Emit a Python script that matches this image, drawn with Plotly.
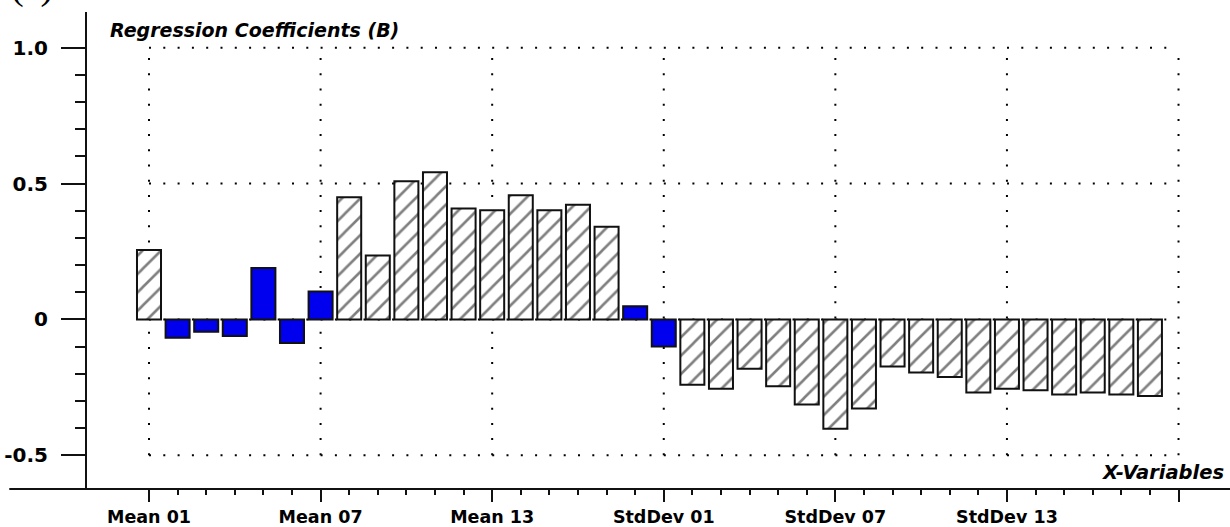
import plotly.graph_objects as go

# ---------------- data ----------------
categories = [
    "Mean 01", "Mean 02", "Mean 03", "Mean 04", "Mean 05", "Mean 06",
    "Mean 07", "Mean 08", "Mean 09", "Mean 10", "Mean 11", "Mean 12",
    "Mean 13", "Mean 14", "Mean 15", "Mean 16", "Mean 17", "Mean 18",
    "StdDev 01", "StdDev 02", "StdDev 03", "StdDev 04", "StdDev 05", "StdDev 06",
    "StdDev 07", "StdDev 08", "StdDev 09", "StdDev 10", "StdDev 11", "StdDev 12",
    "StdDev 13", "StdDev 14", "StdDev 15", "StdDev 16", "StdDev 17", "StdDev 18",
]
coefficients = [
    0.256, -0.067, -0.045, -0.061, 0.189, -0.087, 0.103, 0.450, 0.235,
    0.509, 0.542, 0.408, 0.402, 0.457, 0.402, 0.422, 0.341, 0.049,
    -0.100, -0.240, -0.255, -0.181, -0.246, -0.313, -0.402, -0.328, -0.173,
    -0.195, -0.212, -0.269, -0.255, -0.261, -0.276, -0.269, -0.276, -0.282,
]
highlighted = [
    False, True, True, True, True, True, True, False, False,
    False, False, False, False, False, False, False, False, True,
    True, False, False, False, False, False, False, False, False,
    False, False, False, False, False, False, False, False, False,
]
y_tick_values = [-0.5, 0.0, 0.5, 1.0]
y_tick_labels = ["-0.5", "0", "0.5", "1.0"]
y_minor_values = [-0.4, -0.3, -0.2, -0.1, 0.1, 0.2, 0.3, 0.4, 0.6, 0.7, 0.8, 0.9]
label_every = 6

# ---------------- derived ----------------
n = len(categories)
xpos = list(range(n))
x_major = list(range(0, n + 1, label_every))
x_major_text = [categories[i] if i < n else "" for i in x_major]
x_minor = [i for i in range(1, n) if i % label_every != 0]

hx = [x for x, h in zip(xpos, highlighted) if not h]
hy = [v for v, h in zip(coefficients, highlighted) if not h]
bx = [x for x, h in zip(xpos, highlighted) if h]
by = [v for v, h in zip(coefficients, highlighted) if h]

INK = "#111111"
FONT = "DejaVu Sans"

fig = go.Figure()
fig.add_trace(go.Bar(
    x=hx, y=hy, width=0.84,
    marker=dict(color="white",
                line=dict(color=INK, width=2),
                pattern=dict(shape="/", fgcolor="black", bgcolor="white",
                             size=13, solidity=0.2)),
    showlegend=False, hoverinfo="x+y",
))
fig.add_trace(go.Bar(
    x=bx, y=by, width=0.84,
    marker=dict(color="#0000EE", line=dict(color=INK, width=2)),
    showlegend=False, hoverinfo="x+y",
))

shapes = []
# dotted grid box
for yv in y_tick_values:
    shapes.append(dict(type="line", xref="x", yref="y",
                       x0=x_major[0], x1=x_major[-1], y0=yv, y1=yv,
                       line=dict(color="black", width=2, dash="2px,12.3px"),
                       layer="below"))
for xv in x_major:
    shapes.append(dict(type="line", xref="x", yref="y",
                       x0=xv, x1=xv, y0=min(y_tick_values), y1=max(y_tick_values),
                       line=dict(color="black", width=2, dash="2px,13.2px"),
                       layer="below"))
# horizontal axis line extending left past the y axis
shapes.append(dict(type="line", xref="paper", yref="paper",
                   x0=-0.068, x1=1, y0=0, y1=0,
                   line=dict(color=INK, width=2), layer="above"))

annotations = [
    dict(text="Regression Coefficients (B)", xref="paper", yref="paper",
         x=0.018, y=0.962, xanchor="left", yanchor="middle", showarrow=False,
         font=dict(family=FONT, size=19, color="black", weight="bold", style="italic")),
    dict(text="X-Variables", xref="paper", yref="paper",
         x=0.9965, y=0.034, xanchor="right", yanchor="middle", showarrow=False,
         font=dict(family=FONT, size=19.5, color="black", weight="bold", style="italic")),
    dict(text="(a)", xref="paper", yref="paper",
         x=-0.068, y=1.004, xanchor="left", yanchor="bottom", showarrow=False,
         font=dict(family="Liberation Serif", size=38, color="black")),
]

fig.update_layout(
    width=1230, height=527,
    margin=dict(l=87, r=0, t=12, b=34, pad=0),
    paper_bgcolor="white", plot_bgcolor="white",
    bargap=0.16,
    shapes=shapes, annotations=annotations,
    xaxis=dict(
        range=[-2.168, 37.8], showgrid=False, zeroline=False, showline=False,
        tickmode="array", tickvals=x_major, ticktext=x_major_text,
        ticks="outside", ticklen=12, tickwidth=2, tickcolor=INK,
        tickfont=dict(family=FONT, size=17.5, color="black", weight="bold"),
        minor=dict(tickmode="array", tickvals=x_minor, ticks="outside",
                   ticklen=5, tickwidth=2, tickcolor=INK, showgrid=False),
    ),
    yaxis=dict(
        range=[-0.624, 1.1315], showgrid=False, zeroline=False,
        showline=True, linecolor=INK, linewidth=2,
        tickmode="array", tickvals=y_tick_values, ticktext=y_tick_labels,
        ticks="outside", ticklen=24, tickwidth=2, tickcolor=INK,
        ticklabelstandoff=9,
        tickfont=dict(family=FONT, size=20, color="black", weight="bold"),
        minor=dict(tickmode="array", tickvals=y_minor_values, ticks="outside",
                   ticklen=10, tickwidth=2, tickcolor=INK, showgrid=False),
    ),
)

fig.write_html("out.html")
